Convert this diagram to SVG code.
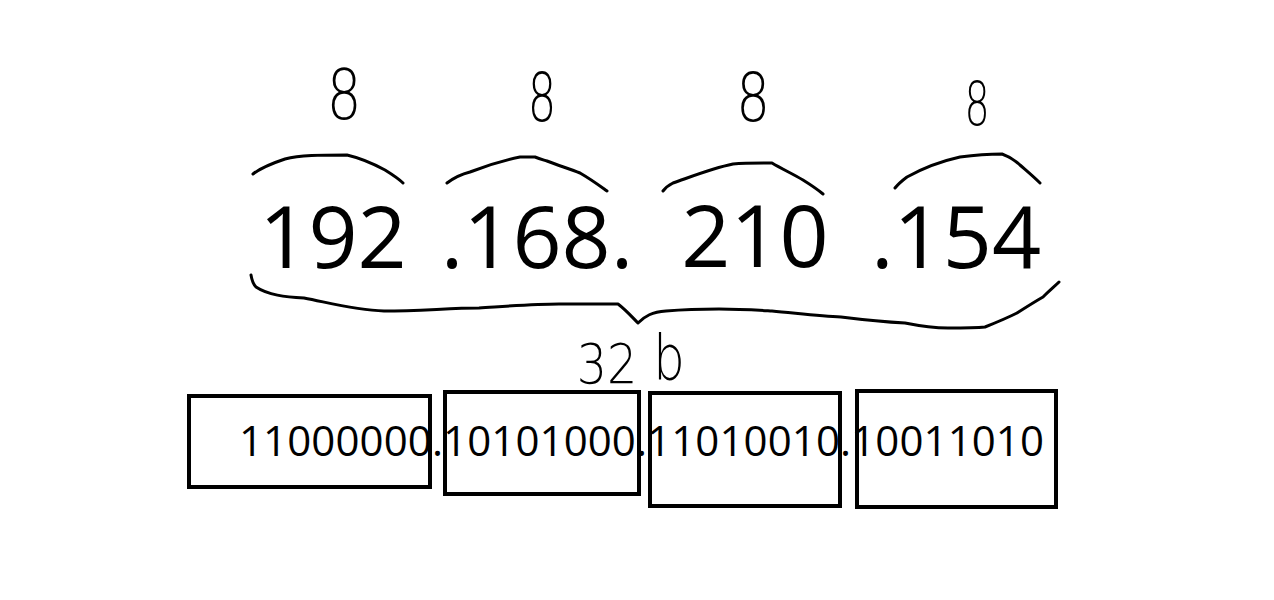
<svg xmlns="http://www.w3.org/2000/svg" width="1274" height="600" viewBox="0 0 1274 600">
<style>
.big{font-family:"Open Sans","Liberation Sans",sans-serif;font-size:86px;fill:#000;text-anchor:middle}
.bin{font-family:"Open Sans","Liberation Sans",sans-serif;font-size:42px;fill:#000}
.hand{font-family:"DejaVu Sans","Liberation Sans",sans-serif;font-weight:200;fill:#000;text-anchor:middle}
.stroke{fill:none;stroke:#000;stroke-width:3;stroke-linecap:round;stroke-linejoin:round}
.box{fill:none;stroke:#000;stroke-width:4}
</style>
<rect width="1274" height="600" fill="#fff"/>
<g id="octet1">
<text class="hand" font-size="70" transform="translate(344,119) scale(0.78,1)">8</text>
<path class="stroke" d="M253,174 C262,167 273,163 285,159 C300,155 320,155 347,155 C360,158 372,163 385,170 C393,175 399,179 403,183"/>
<text class="big" x="333" y="268">192</text>
</g>
<g id="octet2">
<text class="hand" font-size="68" transform="translate(542,121) scale(0.66,1)">8</text>
<path class="stroke" d="M447,183 C455,177 462,174 470,172 C490,164 505,160 520,157 L535,157 C540,159 544,160 547,161 C560,166 570,169 580,173 C592,180 600,186 607,191"/>
<text class="big" x="537" y="268">.168.</text>
</g>
<g id="octet3">
<text class="hand" font-size="68" transform="translate(753,121) scale(0.78,1)">8</text>
<path class="stroke" d="M663,191 C666,187 669,185 673,183 C693,176 713,168 733,164 C745,163 760,163 772,163 C782,169 793,174 803,180 C811,185 817,189 823,194"/>
<text class="big" x="755" y="267">210</text>
</g>
<g id="octet4">
<text class="hand" font-size="60" transform="translate(977,125) scale(0.66,1)">8</text>
<path class="stroke" d="M895,188 C899,183 903,180 907,177 C925,167 942,161 960,157 C975,155 990,154 1002,154 C1010,157 1015,160 1020,165 C1028,172 1034,177 1040,183"/>
<text class="big" x="956" y="268">.154</text>
</g>
<g id="brace">
<path class="stroke" d="M251,275 C252,281 254,285 256,287 C268,295 285,297 304,298 C330,303 355,310 384,311 C420,311 450,308 479,308 C510,306 535,304 559,304 L618,304 C626,310 633,318 638,323 C645,316 652,312 666,311 C690,309 700,309 719,309 C740,309 755,310 772,311 C795,313 820,316 841,317 C865,320 885,322 905,323 C925,327 938,328 948,328 C965,328 975,328 985,327 C995,323 1005,319 1017,313 C1028,306 1036,301 1043,297 C1050,290 1055,286 1059,282"/>
<text class="hand" font-size="56" transform="translate(607,383) scale(0.85,1)">32</text>
<text class="hand" font-size="62" transform="translate(669,379) scale(0.8,1)">b</text>
</g>
<g id="binary">
<rect id="box1" class="box" x="189" y="396" width="241" height="91"/>
<rect id="box2" class="box" x="445" y="392" width="194" height="102"/>
<rect id="box3" class="box" x="650" y="393" width="190" height="113"/>
<rect id="box4" class="box" x="857" y="391" width="199" height="116"/>
<text class="bin" x="239" y="456" textLength="805" lengthAdjust="spacing">11000000.10101000.11010010.10011010</text>
</g>
<g id="connectors"></g>
</svg>
